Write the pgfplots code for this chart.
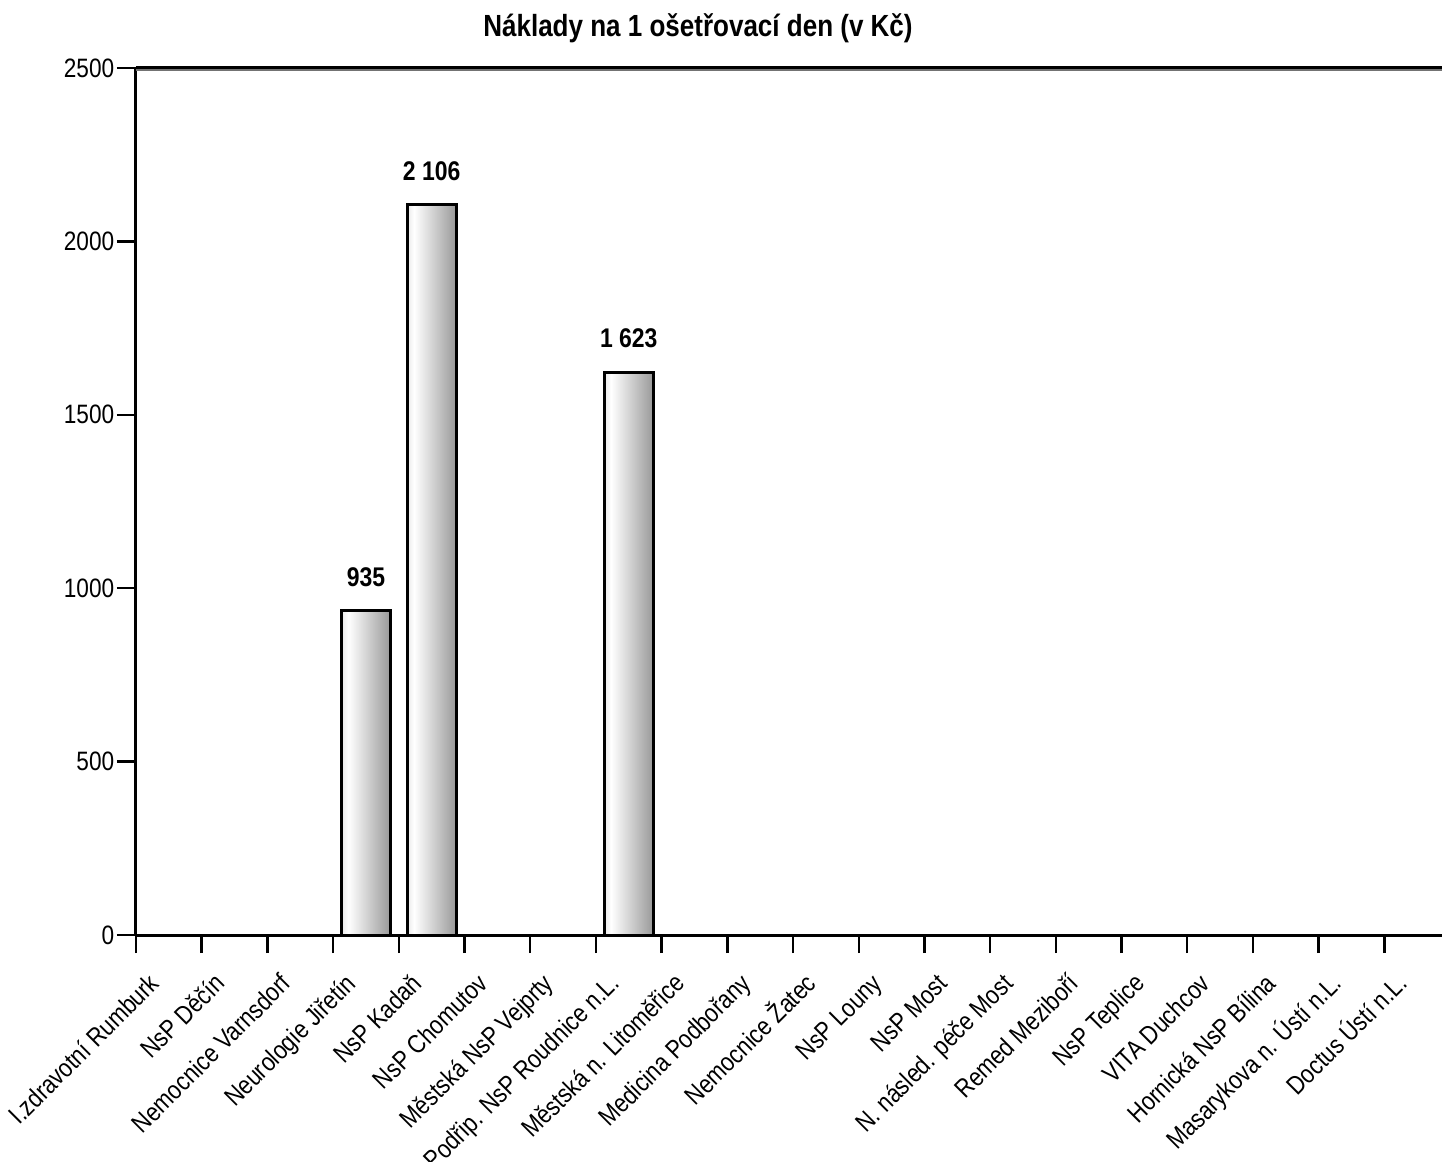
\documentclass[border=0pt]{standalone}
\usepackage{fontspec}
\setmainfont[FakeStretch=0.85]{Liberation Sans}
\usepackage{pgfplots}
\pgfplotsset{compat=1.18}

\pgfdeclarehorizontalshading{barshade}{100bp}{color(0bp)=(black!12); color(22bp)=(black!12); color(32bp)=(white); color(75bp)=(black!40); color(100bp)=(black!40)}

\begin{document}
\begin{tikzpicture}
\begin{axis}[
    x=32.85pt, y=0.1734pt,
    xmin=-0.5, xmax=19.38,
    ymin=0, ymax=2500,
    axis x line=box, axis y line=left,
    axis line style={-, line width=1.5pt},
    ytick={0,500,...,2500},
    xtick={0,...,19},
    minor xtick={-0.5,0.5,...,18.5},
    tick pos=left,
    tick align=outside,
    major tick length=9.5pt,
    minor tick length=9pt,
    every major x tick/.style={draw=none},
    every minor tick/.append style={line width=1.2pt, black},
    every major tick/.append style={line width=1.2pt, black},
    /pgf/number format/assume math mode=true,
    /pgf/number format/1000 sep={},
    yticklabel style={font=\fontsize{13.3}{16}\selectfont, inner sep=1.2pt},
    xticklabel style={xshift=-4pt, yshift=-15.5pt, font=\fontsize{13}{16}\selectfont, rotate=45, anchor=base east, inner sep=0pt},
    xticklabels={I.zdravotní Rumburk, NsP Děčín, Nemocnice Varnsdorf, Neurologie Jiřetín, NsP Kadaň, NsP Chomutov, Městská NsP Vejprty, Podřip. NsP Roudnice n.L., Městská n. Litoměřice, Medicina Podbořany, Nemocnice Žatec, NsP Louny, NsP Most, N. násled. péče Most, Remed Meziboří, NsP Teplice, VITA Duchcov, Hornická NsP Bílina, Masarykova n. Ústí n.L., Doctus Ústí n.L.},
    clip=false,
    nodes near coords={\pgfmathprintnumber[fixed, precision=0, 1000 sep={\ }]{\pgfplotspointmeta}},
    every node near coord/.append style={font=\bfseries\fontsize{13.5}{15}\selectfont, black, yshift=8pt},
]
\addplot[ybar, bar shift=0pt, bar width=24.5pt, draw=black, line width=1.5pt, shading=barshade] coordinates {(3,935)};
\addplot[ybar, bar shift=0pt, bar width=24.5pt, draw=black, line width=1.5pt, shading=barshade] coordinates {(4,2106)};
\addplot[ybar, bar shift=0pt, bar width=24.5pt, draw=black, line width=1.5pt, shading=barshade] coordinates {(7,1623)};
\coordinate (O) at (rel axis cs:0,0);
\coordinate (T) at (rel axis cs:0,1);
\end{axis}
\draw[black!55, line width=0.7pt] ([yshift=-1.1pt]T) -- ++(653pt,0);
\node[anchor=base, font=\bfseries\fontsize{15.3}{18}\selectfont] at ([xshift=281pt, yshift=449pt]O) {Náklady na 1 ošetřovací den (v Kč)};
\pgfresetboundingbox
\path ([xshift=-68pt, yshift=-113.5pt]O) rectangle ([xshift=653pt, yshift=467.5pt]O);
\end{tikzpicture}
\end{document}
